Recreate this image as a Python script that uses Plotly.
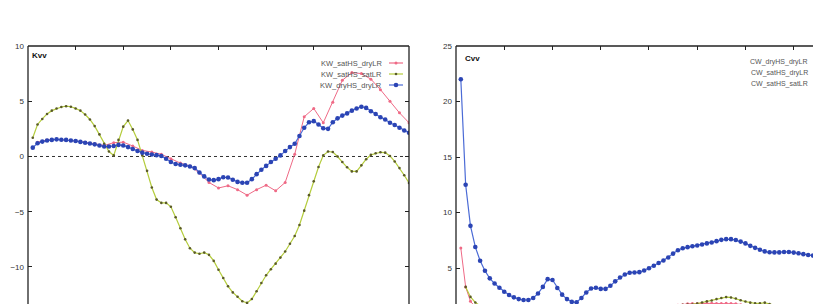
import plotly.graph_objects as go

# ---------------- data ----------------
kw_x = list(range(1, 81))
kw_dry_dry = [0.8, 1.2, 1.35, 1.45, 1.5, 1.55, 1.52, 1.5, 1.45, 1.4,
              1.32, 1.25, 1.18, 1.1, 1.0, 0.9, 0.9, 0.95, 1.05, 1.0,
              0.85, 0.68, 0.5, 0.35, 0.25, 0.18, 0.12, 0.05, -0.2, -0.5,
              -0.68, -0.75, -0.8, -0.9, -1.05, -1.45, -1.8, -2.08, -2.14, -2.05,
              -1.88, -1.9, -2.1, -2.3, -2.38, -2.38, -2.05, -1.6, -1.2, -0.85,
              -0.5, -0.2, 0.1, 0.5, 0.85, 1.15, 1.85, 2.6, 3.1, 3.2,
              2.9, 2.55, 2.5, 3.1, 3.45, 3.7, 3.9, 4.15, 4.35, 4.5,
              4.4, 4.1, 3.85, 3.55, 3.35, 3.05, 2.85, 2.6, 2.35, 2.15]
kw_sat_sat = [1.7, 2.9, 3.4, 3.85, 4.15, 4.35, 4.48, 4.55, 4.5, 4.35,
              4.15, 3.8, 3.35, 2.75, 2.0, 1.15, 0.45, 0.1, 1.5, 2.7,
              3.25, 2.45, 1.5, 0.1, -1.3, -2.8, -3.9, -4.2, -4.2, -4.55,
              -5.5, -6.5, -7.5, -8.3, -8.7, -8.8, -8.7, -8.9, -9.45, -10.25,
              -11.0, -11.75, -12.3, -12.7, -13.1, -13.25, -12.9, -12.2, -11.45, -10.75,
              -10.2, -9.7, -9.15, -8.6, -7.9, -7.2, -6.2, -4.9, -3.5, -2.25,
              -0.95, 0.1, 0.45, 0.4, 0.0, -0.5, -0.98, -1.35, -1.35, -0.8,
              -0.25, 0.15, 0.3, 0.38, 0.35, 0.05, -0.45, -1.05, -1.7, -2.4]
kw_red_x = list(range(2, 81, 2))
kw_sat_dry = [1.3, 1.5, 1.55, 1.5, 1.4, 1.3, 1.15, 1.0, 1.25, 1.3,
              0.95, 0.55, 0.4, 0.2, -0.2, -0.6, -0.85, -1.5, -2.35, -2.85,
              -2.65, -3.0, -3.5, -3.0, -2.6, -3.1, -2.35, 0.2, 3.6, 4.35,
              3.05, 4.9, 6.9, 7.6, 7.5, 7.0, 6.05, 5.0, 3.95, 3.05]

cw_x = list(range(1, 75))
cw_dry_dry = [6.8, 3.3, 2.0, 1.5, 1.3, 1.2, 1.1, 1.0, 1.0, 0.95,
              0.9, 0.9, 0.9, 0.95, 1.0, 1.05, 1.1, 1.1, 1.05, 1.0,
              1.0, 1.0, 1.05, 1.1, 1.15, 1.2, 1.25, 1.3, 1.3, 1.3,
              1.35, 1.4, 1.4, 1.45, 1.45, 1.45, 1.5, 1.5, 1.5, 1.52,
              1.55, 1.55, 1.58, 1.6, 1.62, 1.65, 1.7, 1.78, 1.8, 1.8,
              1.8, 1.82, 1.82, 1.8, 1.8, 1.82, 1.8, 1.78, 1.7, 1.62,
              1.6, 1.58, 1.55, 1.55, 1.5, 1.5, 1.5, 1.48, 1.45, 1.45,
              1.4, 1.4, 1.4, 1.4]
cw_green_x = list(range(2, 75))
cw_sat_dry = [3.3, 2.4, 1.9, 1.6, 1.45, 1.35, 1.3, 1.25, 1.2,
              1.2, 1.15, 1.15, 1.1, 1.1, 1.15, 1.2, 1.3, 1.35, 1.3,
              1.2, 1.15, 1.1, 1.1, 1.1, 1.15, 1.2, 1.3, 1.35, 1.35,
              1.35, 1.4, 1.45, 1.5, 1.5, 1.5, 1.5, 1.55, 1.55, 1.55,
              1.55, 1.55, 1.58, 1.6, 1.62, 1.65, 1.68, 1.7, 1.72, 1.8,
              1.9, 2.0, 2.08, 2.2, 2.3, 2.38, 2.35, 2.25, 2.1, 1.98,
              1.88, 1.82, 1.82, 1.88, 1.75, 1.65, 1.6, 1.55, 1.5, 1.5,
              1.45, 1.45, 1.4, 1.4]
cw_sat_sat = [22.0, 12.5, 8.8, 6.9, 5.65, 4.75, 4.07, 3.6, 3.23, 2.87,
              2.57, 2.36, 2.2, 2.12, 2.12, 2.3, 2.7, 3.3, 4.0, 3.92,
              3.2, 2.6, 2.2, 1.95, 1.92, 2.3, 2.8, 3.15, 3.22, 3.12,
              3.12, 3.4, 3.8, 4.15, 4.42, 4.58, 4.6, 4.63, 4.78, 4.98,
              5.2, 5.45, 5.68, 5.95, 6.3, 6.6, 6.78, 6.88, 6.96, 7.03,
              7.12, 7.22, 7.3, 7.42, 7.54, 7.6, 7.6, 7.52, 7.38, 7.22,
              7.0, 6.82, 6.64, 6.5, 6.42, 6.41, 6.41, 6.45, 6.45, 6.39,
              6.33, 6.25, 6.18, 6.12]

kw_names = ["KW_satHS_dryLR", "KW_satHS_satLR", "KW_dryHS_dryLR"]
cw_names = ["CW_dryHS_dryLR", "CW_satHS_dryLR", "CW_satHS_satLR"]
x_ticks = [0, 10, 20, 30, 40, 50, 60, 70, 80]
kw_yticks = [-10, -5, 0, 5, 10]
cw_yticks = [5, 10, 15, 20, 25]

# ---------------- styles ----------------
RED = "#ef6a86"
GREEN = "#b4cc3c"
GREEN_MK = "#5a5a28"
BLUE_L = "#4b6bd6"
BLUE_M = "#2b44b4"

W, H = 813, 304
TOP = 46

fig = go.Figure()

# left panel
fig.add_trace(go.Scatter(x=kw_red_x, y=kw_sat_dry, mode="lines+markers", name=kw_names[0],
                         line=dict(color=RED, width=1), marker=dict(size=3, color=RED),
                         xaxis="x", yaxis="y"))
fig.add_trace(go.Scatter(x=kw_x, y=kw_sat_sat, mode="lines+markers", name=kw_names[1],
                         line=dict(color=GREEN, width=1.2), marker=dict(size=2.6, color=GREEN_MK),
                         xaxis="x", yaxis="y"))
fig.add_trace(go.Scatter(x=kw_x, y=kw_dry_dry, mode="lines+markers", name=kw_names[2],
                         line=dict(color=BLUE_L, width=1.2), marker=dict(size=4.6, color=BLUE_M),
                         xaxis="x", yaxis="y"))
# right panel
fig.add_trace(go.Scatter(x=cw_x, y=cw_dry_dry, mode="lines+markers", name=cw_names[0],
                         line=dict(color=RED, width=1), marker=dict(size=3, color=RED),
                         xaxis="x2", yaxis="y2"))
fig.add_trace(go.Scatter(x=cw_green_x, y=cw_sat_dry, mode="lines+markers", name=cw_names[1],
                         line=dict(color=GREEN, width=1.2), marker=dict(size=2.6, color=GREEN_MK),
                         xaxis="x2", yaxis="y2"))
fig.add_trace(go.Scatter(x=cw_x, y=cw_sat_sat, mode="lines+markers", name=cw_names[2],
                         line=dict(color=BLUE_L, width=1.2), marker=dict(size=4.6, color=BLUE_M),
                         xaxis="x2", yaxis="y2"))

tickfont = dict(family="Liberation Sans, Arial, sans-serif", size=8, color="#333")
common_x = dict(side="top", ticks="inside", ticklen=4, tickcolor="#222", showticklabels=False,
                tickvals=x_ticks, showgrid=False, zeroline=False, showline=False)
common_y = dict(ticks="inside", ticklen=4, tickcolor="#222", showgrid=False,
                zeroline=False, showline=False, tickfont=tickfont, ticklabelstandoff=3)

fig.update_layout(
    width=W, height=H, margin=dict(l=0, r=0, t=TOP, b=0),
    paper_bgcolor="white", plot_bgcolor="white", showlegend=False,
    xaxis=dict(domain=[28 / W, 409 / W], range=[0, 80], anchor="y", **common_x),
    yaxis=dict(domain=[0, 1], range=[-13.35, 10], tickvals=kw_yticks, anchor="x",
               mirror="ticks", **common_y),
    xaxis2=dict(domain=[456 / W, 1], range=[0, 74], anchor="y2", **common_x),
    yaxis2=dict(domain=[0, 1], range=[1.76, 25], tickvals=cw_yticks, anchor="x2", **common_y),
)

# frames
frame = dict(type="line", line=dict(color="#222", width=1.3), layer="above")
for xr, yr, sides in (("x domain", "y domain", ("l", "t", "r")), ("x2 domain", "y2 domain", ("l", "t"))):
    if "l" in sides:
        fig.add_shape(xref=xr, yref=yr, x0=0, x1=0, y0=0, y1=1, **frame)
    if "t" in sides:
        fig.add_shape(xref=xr, yref=yr, x0=0, x1=1, y0=1, y1=1, **frame)
    if "r" in sides:
        fig.add_shape(xref=xr, yref=yr, x0=1, x1=1, y0=0, y1=1, **frame)

# zero line on left panel
fig.add_shape(type="line", xref="x domain", yref="y", x0=0, x1=1, y0=0, y1=0,
              line=dict(color="#333", width=1, dash="dot"), layer="below")

# panel titles
titlefont = dict(family="Liberation Sans, Arial, sans-serif", size=8, color="#111")
fig.add_annotation(text="<b>Kvv</b>", xref="x domain", yref="y domain", x=0.006, y=0.965,
                   xanchor="left", yanchor="middle", showarrow=False, font=titlefont)
fig.add_annotation(text="<b>Cvv</b>", xref="x2 domain", yref="y2 domain", x=0.02, y=0.95,
                   xanchor="left", yanchor="middle", showarrow=False, font=titlefont)

# legends (gnuplot style: text then sample)
legfont = dict(family="Liberation Sans, Arial, sans-serif", size=7.5, color="#555")
colors = [(RED, RED, 3), (GREEN, GREEN_MK, 2.6), (BLUE_L, BLUE_M, 4.6)]
rows_px = [63, 74, 85]
for i, name in enumerate(kw_names):
    yp = (H - rows_px[i]) / (H - TOP)
    fig.add_annotation(text=name, xref="paper", yref="paper", x=384 / W, y=yp,
                       xanchor="right", yanchor="middle", showarrow=False, font=legfont)
    lc, mc, ms = colors[i]
    fig.add_shape(type="line", xref="paper", yref="paper", x0=389 / W, x1=403 / W, y0=yp, y1=yp,
                  line=dict(color=lc, width=1.2))
    r = ms / 2
    fig.add_shape(type="circle", xref="paper", yref="paper",
                  x0=(396 - r) / W, x1=(396 + r) / W,
                  y0=yp - r / (H - TOP), y1=yp + r / (H - TOP),
                  fillcolor=mc, line=dict(color=mc, width=0))
rows_px_r = [62, 73, 84]
legfont_r = dict(family="Liberation Sans, Arial, sans-serif", size=7, color="#555")
for i, name in enumerate(cw_names):
    yp = (H - rows_px_r[i]) / (H - TOP)
    fig.add_annotation(text=name, xref="paper", yref="paper", x=810 / W, y=yp,
                       xanchor="right", yanchor="middle", showarrow=False, font=legfont_r)

fig.write_html("out.html")
